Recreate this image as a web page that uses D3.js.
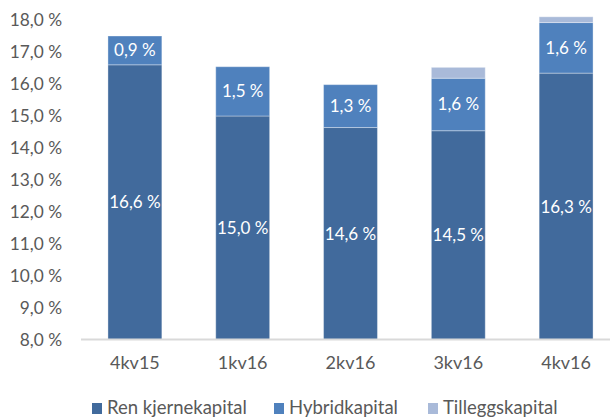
<!DOCTYPE html>
<html>
<head>
<meta charset="utf-8">
<script src="https://cdn.jsdelivr.net/npm/d3@7"></script>
<style>
  body { margin: 0; background: #fff; }
  svg text { font-family: Lato, "Noto Sans", sans-serif; }
</style>
</head>
<body>
<div id="chart"></div>
<script>
// quarters and capital components (percent)
const categories = ['4kv15', '1kv16', '2kv16', '3kv16', '4kv16']
const renKjerne = [16.6, 15.0, 14.64, 14.54, 16.34]
const hybrid = [0.9, 1.54, 1.34, 1.64, 1.58]
const tillegg = [0, 0, 0, 0.34, 0.18]
const seriesNames = ['Ren kjernekapital', 'Hybridkapital', 'Tilleggskapital']
const seriesColors = ['#416a9c', '#4f81bd', '#a9bad9']
const yTicks = [8, 9, 10, 11, 12, 13, 14, 15, 16, 17, 18]

const width = 610
const height = 417
const textColor = '#595959'

const fmt = v => v.toFixed(1).replace('.', ',') + ' %'

const svg = d3.select('#chart').append('svg')
  .attr('width', width)
  .attr('height', height)

const x = d3.scaleBand()
  .domain(categories)
  .range([81, 620])
  .paddingInner(0.5)
  .paddingOuter(0.25)

const y = d3.scaleLinear()
  .domain([8, 18])
  .range([340, 20])

// y tick labels
svg.append('g').selectAll('text')
  .data(yTicks)
  .enter().append('text')
  .attr('x', 62)
  .attr('y', d => y(d))
  .attr('dy', '0.35em')
  .attr('text-anchor', 'end')
  .attr('font-size', 17.3)
  .attr('fill', textColor)
  .text(d => fmt(d))

// stacked data
const rows = categories.map((c, i) => ({ cat: c, k: renKjerne[i], h: hybrid[i], t: tillegg[i] }))
const stack = d3.stack().keys(['k', 'h', 't'])(rows)

const layers = svg.append('g').selectAll('g')
  .data(stack)
  .enter().append('g')
  .attr('fill', (d, i) => seriesColors[i])

layers.selectAll('rect')
  .data(d => d.filter(s => s[1] - s[0] > 0))
  .enter().append('rect')
  .attr('x', d => x(d.data.cat))
  .attr('width', x.bandwidth())
  .attr('y', d => y(d[1]))
  .attr('height', d => y(d[0] < 8 ? 8 : d[0]) - y(d[1]))
  .attr('stroke', 'rgba(255,255,255,0.35)')
  .attr('stroke-width', 1)

// baseline
svg.append('line')
  .attr('x1', 81).attr('x2', 610)
  .attr('y1', y(8) - 0.5).attr('y2', y(8) - 0.5)
  .attr('stroke', '#d9d9d9')
  .attr('stroke-width', 2)

// value labels, first two series only
stack.slice(0, 2).forEach(layer => {
  svg.append('g').selectAll('text')
    .data(layer)
    .enter().append('text')
    .attr('x', d => x(d.data.cat) + x.bandwidth() / 2)
    .attr('y', d => (y(Math.max(d[0], 8)) + y(d[1])) / 2)
    .attr('dy', '0.35em')
    .attr('text-anchor', 'middle')
    .attr('font-size', 17)
    .attr('fill', '#fff')
    .text(d => fmt(d[1] - d[0]))
})

// category labels
svg.append('g').selectAll('text')
  .data(categories)
  .enter().append('text')
  .attr('x', d => x(d) + x.bandwidth() / 2)
  .attr('y', 363)
  .attr('dy', '0.35em')
  .attr('text-anchor', 'middle')
  .attr('font-size', 18)
  .attr('fill', textColor)
  .text(d => d)

// legend
const legendX = [92, 274, 428]
const legend = svg.append('g').selectAll('g')
  .data(seriesNames)
  .enter().append('g')
  .attr('transform', (d, i) => `translate(${legendX[i]},408)`)

legend.append('rect')
  .attr('x', 0).attr('y', -5)
  .attr('width', 10).attr('height', 11)
  .attr('fill', (d, i) => seriesColors[i])

legend.append('text')
  .attr('x', 15)
  .attr('dy', '0.35em')
  .attr('font-size', 18.5)
  .attr('fill', textColor)
  .text(d => d)
</script>
</body>
</html>
